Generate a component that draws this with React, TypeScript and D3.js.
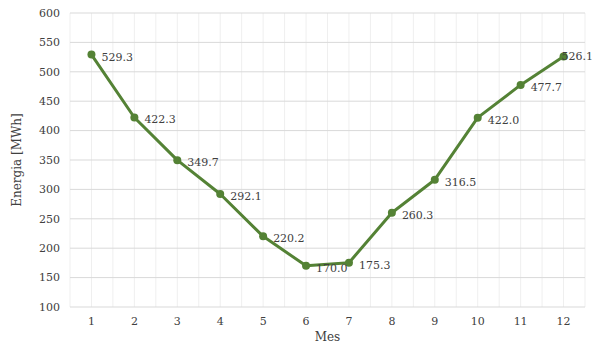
import React from "react";
import * as d3 from "d3";

const months = ["1", "2", "3", "4", "5", "6", "7", "8", "9", "10", "11", "12"];
const energy = [529.3, 422.3, 349.7, 292.1, 220.2, 170.0, 175.3, 260.3, 316.5, 422.0, 477.7, 526.1];
const yTicks = [100, 150, 200, 250, 300, 350, 400, 450, 500, 550, 600];

const W = 595;
const H = 346;
const margin = { left: 70, right: 10, top: 13, bottom: 39 };
const FONT = "'DejaVu Serif', 'Liberation Serif', serif";
const GREEN = "#548235";

export default function App() {
  const x = d3
    .scaleBand<string>()
    .domain(months)
    .range([margin.left, W - margin.right])
    .padding(0);
  const y = d3.scaleLinear().domain([100, 600]).range([H - margin.bottom, margin.top]);
  const cx = (m: string) => (x(m) ?? 0) + x.bandwidth() / 2;

  const line = d3
    .line<number>()
    .x((_, i) => cx(months[i]))
    .y((d) => y(d));

  // faint vertical lines at band edges and band centres
  const vLines: number[] = [];
  months.forEach((m) => {
    vLines.push(x(m) ?? 0);
    vLines.push(cx(m));
  });
  vLines.push(W - margin.right);

  const last = energy.length - 1;

  return (
    <svg
      width={W}
      height={H}
      style={{ position: "absolute", left: 0, top: 0, background: "#fff" }}
      fontFamily={FONT}
    >
      {vLines.map((vx, i) => (
        <line
          key={"v" + i}
          x1={vx}
          x2={vx}
          y1={y(600)}
          y2={y(100)}
          stroke="#efefef"
          strokeWidth={1}
        />
      ))}
      {yTicks.map((t) => (
        <g key={"y" + t}>
          <line
            x1={margin.left}
            x2={W - margin.right}
            y1={y(t)}
            y2={y(t)}
            stroke="#d9d9d9"
            strokeWidth={1}
          />
          <text
            x={60}
            y={y(t)}
            dy="0.35em"
            textAnchor="end"
            fontSize={11}
            fill="#404040"
          >
            {t}
          </text>
        </g>
      ))}
      {months.map((m) => (
        <text
          key={"x" + m}
          x={cx(m)}
          y={325}
          textAnchor="middle"
          fontSize={11}
          fill="#404040"
        >
          {m}
        </text>
      ))}
      <path d={line(energy) ?? ""} fill="none" stroke={GREEN} strokeWidth={3} strokeLinejoin="round" />
      {energy.map((v, i) => (
        <circle key={"p" + i} cx={cx(months[i])} cy={y(v)} r={4} fill={GREEN} />
      ))}
      {energy.map((v, i) => (
        <text
          key={"l" + i}
          x={i === last ? W - 2 : cx(months[i]) + 10}
          y={y(v) + (i === last ? 4 : 6)}
          textAnchor={i === last ? "end" : "start"}
          fontSize={11}
          fill="#404040"
        >
          {v.toFixed(1)}
        </text>
      ))}
      <text x={(margin.left + W - margin.right) / 2} y={341} textAnchor="middle" fontSize={12} fill="#404040">
        Mes
      </text>
      <text
        transform={`translate(21, ${(y(100) + y(600)) / 2}) rotate(-90)`}
        textAnchor="middle"
        fontSize={12}
        fill="#404040"
      >
        Energia [MWh]
      </text>
    </svg>
  );
}
